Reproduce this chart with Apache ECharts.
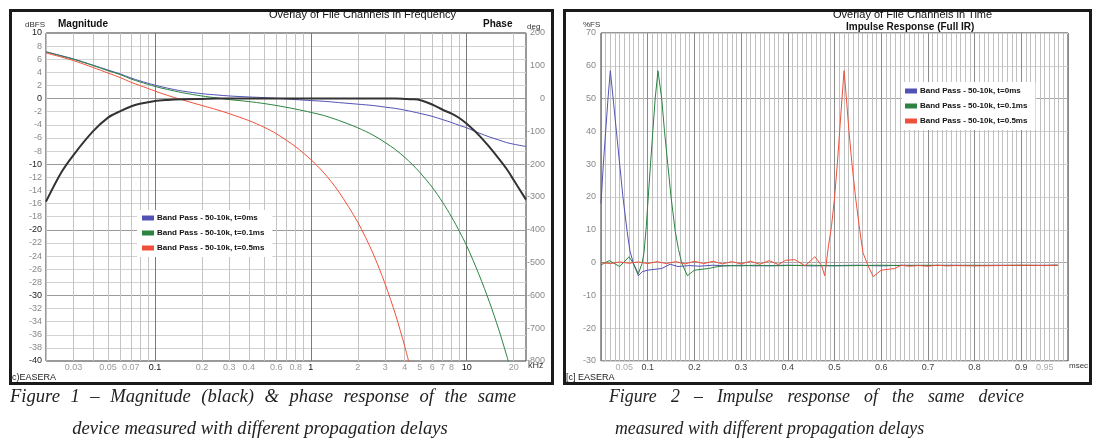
<!DOCTYPE html>
<html><head><meta charset="utf-8">
<script src="https://cdn.jsdelivr.net/npm/echarts@6/dist/echarts.min.js"></script>
<style>html,body{margin:0;padding:0;background:#fff}#c{width:1103px;height:447px}</style>
</head><body><div id="c"></div>
<script>
// ---------- Figure 1 data (frequency response) ----------
const freqKHz = [0.02,0.025,0.03,0.04,0.05,0.06,0.07,0.08,0.1,0.12,0.15,0.2,0.25,0.3,0.4,0.5,0.6,0.8,1,1.2,1.5,2,2.5,3,3.5,4,4.5,5,6,7,8,9,10,12,14,16,18,20,24];
const magnitudeDb = [-15.7,-11.3,-8.6,-5.0,-2.9,-1.9,-1.2,-0.8,-0.35,-0.2,-0.1,-0.05,0,0,0,0,0,0,0,0,0,0,0,0,0,-0.05,-0.1,-0.2,-0.9,-1.7,-2.3,-3.0,-3.85,-5.6,-7.4,-9.1,-10.7,-12.4,-15.4];
const phaseT0 = [143,131,121,102,87,75,63,54,41,32,23,15,11,8,5,3,1,-3,-6,-8,-12,-17,-21,-26,-30,-35,-40,-45,-54,-64,-73,-82,-89,-105,-117,-126,-134,-139,-146];
const phaseT01 = [142,130,120,101,85,73,60,51,37,28,18,8,2,-3,-9,-15,-21,-32,-42,-51,-66,-89,-111,-134,-156,-179,-202,-225,-270,-316,-361,-406,-449,-537,-621,-702,-782,-859];
const phaseT05 = [139,127,116,95,78,64,50,40,23,10,-4,-21,-34,-46,-67,-87,-107,-147,-186,-224,-282,-377,-471,-566,-660,-755,-850];
const freqGridKHz = [0.02,0.03,0.04,0.05,0.06,0.07,0.08,0.09,0.1,0.2,0.3,0.4,0.5,0.6,0.7,0.8,0.9,1,2,3,4,5,6,7,8,9,10,20];
const freqDecadesKHz = [0.1,1,10];
const freqTickLabels = [0.03,0.05,0.07,0.1,0.2,0.3,0.4,0.6,0.8,1,2,3,4,5,6,7,8,10,20];

// ---------- Figure 2 data (impulse response) ----------
const irT0 = [[0,18],[0.005,30],[0.01,40],[0.015,50],[0.02,58.5],[0.026,50],[0.033,40],[0.04,30],[0.047,20],[0.056,9.5],[0.062,3.5],[0.07,-0.5],[0.08,-4],[0.088,-2.8],[0.1,-2.3],[0.13,-1.8],[0.148,-0.5],[0.165,-1.2],[0.19,-0.9],[0.21,-1.1],[0.24,-0.8],[0.27,-1.0],[0.3,-0.8],[0.33,-1.0],[0.36,-0.9],[0.4,-0.8],[0.45,-1.0],[0.5,-0.9],[0.55,-0.8],[0.6,-1.0],[0.65,-0.8],[0.7,-0.9],[0.75,-0.8],[0.8,-0.9],[0.85,-0.8],[0.9,-0.9],[0.95,-0.8],[0.978,-0.8]];
const irT01 = [[0,-0.7],[0.018,0.6],[0.04,-1.2],[0.06,1.8],[0.069,-0.2],[0.08,-3.4],[0.088,-0.2],[0.092,3],[0.097,11],[0.1,17.5],[0.106,30],[0.111,40],[0.116,50],[0.122,58.5],[0.13,50],[0.136,40],[0.143,30],[0.15,20],[0.159,9.5],[0.166,4],[0.173,-0.2],[0.185,-4],[0.2,-2.3],[0.23,-1.8],[0.25,-1.2],[0.27,-0.9],[0.3,-1.0],[0.33,-0.8],[0.36,-1.0],[0.4,-0.9],[0.45,-0.8],[0.5,-1.0],[0.55,-0.9],[0.6,-0.8],[0.65,-0.9],[0.7,-0.8],[0.75,-0.9],[0.8,-0.8],[0.85,-0.9],[0.9,-0.8],[0.95,-0.9],[0.978,-0.8]];
const irT05 = [[0,0],[0.02,-0.3],[0.04,0.2],[0.06,-0.2],[0.08,0.2],[0.1,-0.3],[0.12,0.3],[0.14,-0.3],[0.16,0.3],[0.18,-0.4],[0.2,0.4],[0.22,-0.3],[0.24,0.4],[0.26,-0.4],[0.28,0.3],[0.3,-0.4],[0.32,0.4],[0.34,-0.5],[0.36,0.6],[0.38,-0.6],[0.395,0.7],[0.415,0.9],[0.437,-1.0],[0.458,1.8],[0.472,-0.8],[0.479,-4],[0.487,5],[0.4935,11],[0.5,19.6],[0.506,30],[0.511,40],[0.516,50],[0.5205,58.5],[0.5255,50],[0.531,40],[0.5375,30],[0.545,20],[0.554,10],[0.561,3],[0.572,-1],[0.583,-4.3],[0.6,-2.3],[0.629,-1.8],[0.643,-0.8],[0.66,-1.1],[0.68,-0.9],[0.7,-1.1],[0.72,-0.8],[0.74,-1.0],[0.76,-0.9],[0.8,-1.0],[0.85,-0.9],[0.9,-0.8],[0.95,-0.9],[0.978,-0.8]];
const timeTickLabels = [0.05,0.1,0.2,0.3,0.4,0.5,0.6,0.7,0.8,0.9,0.95];

const seriesNames = ['Band Pass - 50-10k, t=0ms','Band Pass - 50-10k, t=0.1ms','Band Pass - 50-10k, t=0.5ms'];
const seriesColors = ['#5252b4','#2a8440','#f0503a'];

const caption1 = ['Figure 1 \u2013 Magnitude (black) & phase response of the same', 'device measured with different propagation delays'];
const caption2 = ['Figure 2 \u2013 Impulse response of the same device', 'measured with different propagation delays'];

const FONT = 'Liberation Sans, Arial, sans-serif';
const SERIF = '"Liberation Serif", "Times New Roman", serif';
const lg = Math.log10;
const freqPairs = vals => vals.map((v, i) => [lg(freqKHz[i]), v]);

// justified caption line: words spread between x0 and x1
const measureCtx = document.createElement('canvas').getContext('2d');
function justified(text, font, x0, x1, y) {
  measureCtx.font = font;
  const words = text.split(' ');
  const widths = words.map(w => measureCtx.measureText(w).width);
  const total = widths.reduce((a, b) => a + b, 0);
  const gap = (x1 - x0 - total) / (words.length - 1);
  let x = x0;
  return words.map((w, i) => {
    const el = {type: 'text', x: x, y: y, style: {text: w, font: font, fill: '#222', verticalAlign: 'middle'}};
    x += widths[i] + gap;
    return el;
  });
}

const chart = echarts.init(document.getElementById('c'));
const axisLabelBase = {fontFamily: FONT, fontSize: 9};
const capFont1 = 'italic 18.6px ' + SERIF;
const capFont2 = 'italic 17.8px ' + SERIF;
const legendText = {fontFamily: FONT, fontSize: 8, fontWeight: 'bold', color: '#111', padding: [0, 0, 0, -2]};

const option = {
  animation: false,
  backgroundColor: '#fff',
  grid: [
    {left: 46, top: 33, width: 480, height: 328, show: true, borderColor: '#333', borderWidth: 1, backgroundColor: 'transparent'},
    {left: 601, top: 33, width: 467, height: 328, show: true, borderColor: '#333', borderWidth: 1, backgroundColor: 'transparent'}
  ],
  xAxis: [
    {gridIndex: 0, type: 'value', position: 'bottom', min: lg(0.02), max: lg(24),
      axisLine: {show: false}, axisTick: {show: false, customValues: freqGridKHz.map(lg)},
      splitLine: {show: true, lineStyle: {color: '#c4c4c4', width: 1}},
      axisLabel: Object.assign({}, axisLabelBase, {show: true, margin: 2, customValues: freqTickLabels.map(lg),
        formatter: v => String(+Math.pow(10, v).toPrecision(2)),
        color: v => Math.abs(v - Math.round(v)) < 1e-6 ? '#111' : '#999'})},
    {gridIndex: 0, type: 'value', position: 'bottom', min: lg(0.02), max: lg(24),
      axisLine: {show: false}, axisTick: {show: false, customValues: freqDecadesKHz.map(lg)},
      splitLine: {show: true, lineStyle: {color: '#7a7a7a', width: 1}}, axisLabel: {show: false}},
    {gridIndex: 1, type: 'value', position: 'bottom', min: 0, max: 1, interval: 0.01,
      axisLine: {show: false}, axisTick: {show: false},
      splitLine: {show: true, lineStyle: {color: '#c0c0c0', width: 1}}, axisLabel: {show: false}},
    {gridIndex: 1, type: 'value', position: 'bottom', min: 0, max: 1, interval: 0.1,
      axisLine: {show: false}, axisTick: {show: false},
      splitLine: {show: true, lineStyle: {color: '#8a8a8a', width: 1}},
      axisLabel: Object.assign({}, axisLabelBase, {show: true, margin: 2, customValues: timeTickLabels,
        formatter: v => String(+v.toFixed(2)),
        color: v => (Math.abs(v - 0.05) < 1e-6 || Math.abs(v - 0.95) < 1e-6) ? '#aaa' : '#444'})}
  ],
  yAxis: [
    {gridIndex: 0, type: 'value', min: -40, max: 10, interval: 2, position: 'left',
      axisLine: {show: false}, axisTick: {show: false},
      splitLine: {show: true, lineStyle: {color: '#d2d2d2', width: 1}},
      axisLabel: Object.assign({}, axisLabelBase, {margin: 4, color: v => v % 10 === 0 ? '#222' : '#888'})},
    {gridIndex: 0, type: 'value', min: -800, max: 200, interval: 100, position: 'right',
      axisLine: {show: false}, axisTick: {show: false}, splitLine: {show: false},
      axisLabel: Object.assign({}, axisLabelBase, {margin: 19, align: 'right', color: v => v === 0 ? '#222' : '#888'})},
    {gridIndex: 0, type: 'value', min: -40, max: 10, interval: 10, position: 'left',
      axisLine: {show: false}, axisTick: {show: false}, axisLabel: {show: false},
      splitLine: {show: true, lineStyle: {color: '#9a9a9a', width: 1}}},
    {gridIndex: 1, type: 'value', min: -30, max: 70, interval: 10, position: 'left',
      axisLine: {show: false}, axisTick: {show: false},
      splitLine: {show: true, lineStyle: {color: '#d0d0d0', width: 1}},
      axisLabel: Object.assign({}, axisLabelBase, {margin: 5, color: '#888'})},
    {gridIndex: 1, type: 'value', min: -30, max: 70, position: 'left',
      axisLine: {show: false}, axisTick: {show: false, customValues: [0, 50]}, axisLabel: {show: false},
      splitLine: {show: true, lineStyle: {color: '#a8a8a8', width: 1}}}
  ],
  legend: [
    {data: seriesNames, orient: 'vertical', left: 137, top: 210, backgroundColor: '#fff',
      padding: [4, 8, 5, 5], itemGap: 7, itemWidth: 12, itemHeight: 5, icon: 'rect', selectedMode: false,
      textStyle: legendText},
    {data: seriesNames, orient: 'vertical', left: 902, top: 82, backgroundColor: '#fff',
      padding: [5, 8, 5, 3], itemGap: 7, itemWidth: 12, itemHeight: 5, icon: 'rect', selectedMode: false,
      textStyle: legendText}
  ],
  series: [
    {name: 'Magnitude', type: 'line', xAxisIndex: 0, yAxisIndex: 0, data: freqPairs(magnitudeDb),
      showSymbol: false, smooth: 0.3, color: '#333', lineStyle: {width: 2, color: '#333'}, z: 5},
    {name: seriesNames[0], type: 'line', xAxisIndex: 0, yAxisIndex: 1, data: freqPairs(phaseT0),
      showSymbol: false, smooth: 0.3, color: seriesColors[0], lineStyle: {width: 1}},
    {name: seriesNames[1], type: 'line', xAxisIndex: 0, yAxisIndex: 1, data: freqPairs(phaseT01),
      showSymbol: false, smooth: 0.3, color: seriesColors[1], lineStyle: {width: 1}},
    {name: seriesNames[2], type: 'line', xAxisIndex: 0, yAxisIndex: 1, data: freqPairs(phaseT05),
      showSymbol: false, smooth: 0.3, color: seriesColors[2], lineStyle: {width: 1}},
    {name: seriesNames[0], type: 'line', xAxisIndex: 2, yAxisIndex: 3, data: irT0,
      showSymbol: false, color: seriesColors[0], lineStyle: {width: 1}},
    {name: seriesNames[1], type: 'line', xAxisIndex: 2, yAxisIndex: 3, data: irT01,
      showSymbol: false, color: seriesColors[1], lineStyle: {width: 1}},
    {name: seriesNames[2], type: 'line', xAxisIndex: 2, yAxisIndex: 3, data: irT05,
      showSymbol: false, color: seriesColors[2], lineStyle: {width: 1}}
  ],
  graphic: [
    {type: 'rect', shape: {x: 10.5, y: 10.5, width: 542, height: 373}, style: {fill: null, stroke: '#1a1a1a', lineWidth: 3}, silent: true},
    {type: 'rect', shape: {x: 564.5, y: 10.5, width: 526, height: 373}, style: {fill: null, stroke: '#1a1a1a', lineWidth: 3}, silent: true},
    {type: 'text', x: 269, y: 15, style: {text: 'Overlay of File Channels in Frequency', font: '11px ' + FONT, fill: '#111', verticalAlign: 'middle'}},
    {type: 'text', x: 25, y: 25, style: {text: 'dBFS', font: '8px ' + FONT, fill: '#333', verticalAlign: 'middle'}},
    {type: 'text', x: 58, y: 24, style: {text: 'Magnitude', font: 'bold 10px ' + FONT, fill: '#111', verticalAlign: 'middle'}},
    {type: 'text', x: 483, y: 24, style: {text: 'Phase', font: 'bold 10px ' + FONT, fill: '#111', verticalAlign: 'middle'}},
    {type: 'text', x: 527, y: 27, style: {text: 'deg', font: '8px ' + FONT, fill: '#333', verticalAlign: 'middle'}},
    {type: 'text', x: 528, y: 366, style: {text: 'kHz', font: '9px ' + FONT, fill: '#333', verticalAlign: 'middle'}},
    {type: 'text', x: 12, y: 378, style: {text: 'c)EASERA', font: '9px ' + FONT, fill: '#222', verticalAlign: 'middle'}},
    {type: 'text', x: 583, y: 25, style: {text: '%FS', font: '8px ' + FONT, fill: '#333', verticalAlign: 'middle'}},
    {type: 'text', x: 833, y: 15, style: {text: 'Overlay of File Channels in Time', font: '11px ' + FONT, fill: '#111', verticalAlign: 'middle'}},
    {type: 'text', x: 846, y: 27, style: {text: 'Impulse Response (Full IR)', font: 'bold 10px ' + FONT, fill: '#111', verticalAlign: 'middle'}},
    {type: 'text', x: 1069, y: 366, style: {text: 'msec', font: '8px ' + FONT, fill: '#333', verticalAlign: 'middle'}},
    {type: 'text', x: 566, y: 378, style: {text: '[c] EASERA', font: '9px ' + FONT, fill: '#222', verticalAlign: 'middle'}},
    {type: 'text', x: 260, y: 429, style: {text: caption1[1], font: capFont1, fill: '#222', align: 'center', verticalAlign: 'middle'}},
    {type: 'text', x: 615, y: 429, style: {text: caption2[1], font: capFont2, fill: '#222', verticalAlign: 'middle'}}
  ].concat(justified(caption1[0], capFont1, 10, 516, 397), justified(caption2[0], capFont2, 609, 1024, 397))
};
chart.setOption(option);
</script>
</body></html>
